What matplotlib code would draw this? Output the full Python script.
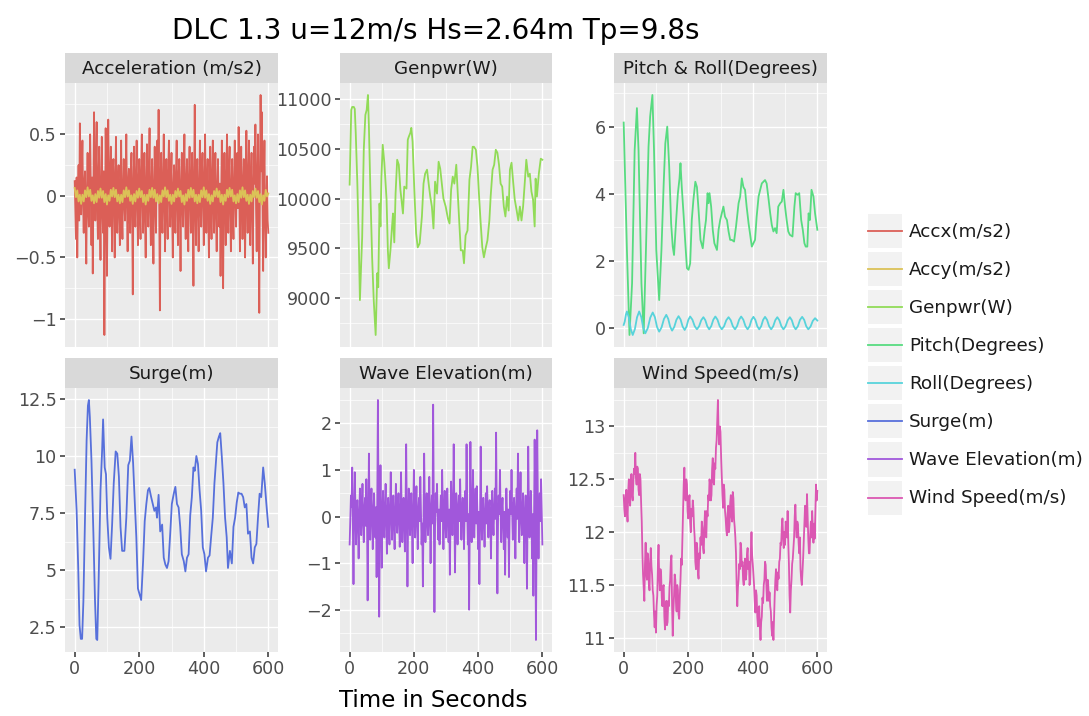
import colorsys
import numpy as np
import matplotlib
matplotlib.use("Agg")
import matplotlib.pyplot as plt
from matplotlib.ticker import MultipleLocator, FuncFormatter
from matplotlib.patches import Rectangle
from matplotlib.lines import Line2D
from matplotlib.legend_handler import HandlerBase

# ---- data (time in s) ----
# noisy signals, evenly sampled from 0 to 600 s (2 s or 4 s steps)
accx = [0.12, -0.10, -0.35, 0.15, -0.50, -0.05, 0.25, -0.20, 0.59, 0.10,
        -0.15, 0.20, 0.45, -0.05, -0.30, 0.10, 0.20, -0.25, -0.55, 0.05,
        0.35, -0.10, -0.25, 0.20, 0.50, 0.05, -0.40, 0.15, -0.63, 0.00,
        0.68, 0.10, -0.20, 0.25, 0.60, -0.10, -0.35, 0.15, 0.40, -0.15,
        -0.52, 0.05, 0.48, -0.10, -0.30, 0.20, -1.13, -0.20, 0.55, 0.10,
        -0.65, 0.00, 0.62, 0.10, -0.25, 0.15, 0.40, -0.10, -0.45, 0.20,
        0.30, -0.05, -0.50, 0.15, 0.48, -0.10, -0.30, 0.10, 0.25, -0.15,
        -0.40, 0.10, 0.45, -0.15, -0.35, 0.05, 0.30, -0.05, -0.20, 0.15,
        0.50, -0.05, -0.45, 0.10, 0.22, -0.15, -0.30, 0.20, 0.35, -0.10,
        -0.80, 0.05, 0.40, -0.10, -0.25, 0.15, 0.45, -0.05, -0.40, 0.10,
        0.30, -0.10, -0.35, 0.20, 0.50, 0.00, -0.30, 0.15, 0.35, -0.20,
        -0.50, 0.10, 0.42, -0.05, -0.25, 0.20, 0.55, -0.10, -0.40, 0.05,
        0.30, -0.15, -0.55, 0.05, 0.40, -0.05, -0.30, 0.20, 0.45, 0.00,
        0.70, -0.10, -0.93, 0.10, 0.35, -0.15, -0.30, 0.15, 0.50, -0.05,
        -0.45, 0.10, 0.30, -0.10, -0.35, 0.20, 0.45, 0.05, -0.25, 0.10,
        0.35, -0.15, -0.50, 0.05, 0.25, -0.10, -0.30, 0.20, 0.45, -0.05,
        -0.40, 0.15, 0.30, -0.10, -0.61, 0.05, 0.35, -0.05, -0.25, 0.20,
        0.50, -0.05, -0.35, 0.10, 0.30, -0.15, -0.45, 0.15, 0.40, 0.00,
        -0.30, 0.15, 0.35, -0.10, -0.73, 0.10, 0.74, -0.05, -0.40, 0.10,
        0.30, -0.10, -0.45, 0.05, 0.45, -0.10, -0.25, 0.20, 0.35, -0.05,
        -0.40, 0.10, 0.50, 0.00, -0.30, 0.10, 0.30, -0.15, -0.50, 0.05,
        0.40, -0.05, -0.35, 0.15, 0.45, -0.10, -0.30, 0.10, 0.35, -0.15,
        -0.45, 0.05, 0.30, -0.05, -0.25, 0.10, -0.65, 0.00, 0.45, -0.10,
        -0.75, 0.10, 0.35, -0.10, -0.40, 0.15, 0.50, -0.05, -0.30, 0.20,
        0.40, -0.10, -0.45, 0.05, 0.30, -0.15, -0.35, 0.10, 0.45, 0.00,
        -0.25, 0.10, 0.35, -0.10, 0.56, 0.05, -0.45, 0.15, 0.40, -0.05,
        -0.35, 0.10, 0.30, -0.15, -0.50, 0.05, 0.53, 0.00, -0.30, 0.15,
        0.45, -0.05, -0.40, 0.10, 0.35, -0.10, -0.55, 0.05, 0.40, 0.10,
        0.58, -0.10, -0.45, 0.15, 0.50, -0.20, -0.95, 0.10, 0.82, 0.20,
        0.68, -0.05, -0.61, 0.10, 0.45, -0.15, -0.50, -0.10, 0.16, -0.20,
        -0.30]

accy = [0.065, -0.010, 0.045, -0.045, 0.010, -0.065, 0.010, -0.045, 0.045, -0.010,
        0.070, -0.005, 0.050, -0.040, 0.005, -0.060, 0.015, -0.050, 0.040, -0.015,
        0.060, -0.015, 0.040, -0.050, 0.015, -0.070, 0.005, -0.040, 0.050, -0.005,
        0.065, -0.010, 0.050, -0.045, 0.010, -0.060, 0.010, -0.050, 0.045, -0.010,
        0.070, -0.005, 0.045, -0.040, 0.005, -0.065, 0.015, -0.045, 0.040, -0.015,
        0.060, -0.010, 0.040, -0.050, 0.010, -0.070, 0.010, -0.040, 0.050, -0.010,
        0.065, -0.015, 0.050, -0.045, 0.015, -0.060, 0.005, -0.050, 0.045, -0.005,
        0.070, -0.010, 0.045, -0.040, 0.010, -0.065, 0.010, -0.045, 0.040, -0.010,
        0.060, -0.005, 0.040, -0.050, 0.005, -0.070, 0.015, -0.040, 0.050, -0.015,
        0.065, -0.010, 0.050, -0.045, 0.010, -0.060, 0.010, -0.050, 0.045, -0.010,
        0.070, -0.015, 0.045, -0.040, 0.015, -0.065, 0.005, -0.045, 0.040, -0.005,
        0.060, -0.010, 0.040, -0.050, 0.010, -0.070, 0.010, -0.040, 0.050, -0.010,
        0.065, -0.005, 0.050, -0.045, 0.005, -0.060, 0.015, -0.050, 0.045, -0.015,
        0.070, -0.010, 0.045, -0.040, 0.010, -0.065, 0.010, -0.045, 0.040, -0.010,
        0.060, -0.015, 0.040, -0.050, 0.015, -0.070, 0.005, -0.040, 0.050, -0.005,
        0.020]

wave = [-0.60, -0.10, 0.45, 0.20, 1.05, -0.30, -1.45, 0.10, 0.95, 0.15,
        -0.60, 0.10, 0.35, -0.20, -0.90, 0.05, 0.60, 0.15, -0.40, 0.20,
        0.70, -0.10, -0.55, 0.15, 0.40, -0.20, 0.80, 0.10, -1.80, -0.20,
        1.35, 0.15, -0.50, 0.20, 0.60, -0.10, -0.70, 0.05, 0.50, -0.15,
        -0.45, 0.20, -1.30, 0.30, 2.50, 0.10, -2.15, -0.20, 1.10, 0.05,
        -1.10, 0.10, 0.55, -0.10, -0.45, 0.20, 0.70, -0.05, -0.80, 0.10,
        0.40, -0.15, -0.60, 0.20, 0.95, 0.05, -0.50, 0.10, 0.45, -0.20,
        -0.70, 0.10, 0.70, -0.05, -0.35, 0.15, 0.50, -0.10, -0.65, 0.05,
        0.95, 0.10, -0.55, 0.05, 0.40, -0.20, -0.75, 0.20, 1.55, 0.00,
        -1.50, -0.10, 0.60, 0.10, -0.40, 0.15, 0.50, -0.20, -1.00, 0.10,
        1.00, 0.05, -0.45, 0.20, 0.65, -0.10, -0.70, 0.10, 0.40, -0.10,
        0.85, 0.10, -0.60, -0.15, -1.50, 0.05, 1.35, 0.20, -0.55, 0.10,
        0.50, -0.10, -0.40, 0.15, 0.85, 0.00, -1.00, 0.10, 0.45, -0.15,
        2.40, 0.20, -2.05, -0.20, 0.50, 0.10, 0.70, -0.05, -0.50, 0.15,
        -0.60, 0.05, 0.45, -0.10, 1.00, 0.15, -0.70, 0.10, 0.55, -0.15,
        -0.45, 0.10, 0.60, -0.05, -0.55, 0.15, -1.25, -0.10, 0.75, 0.05,
        -0.40, 0.20, 1.55, 0.10, -1.20, -0.05, 0.50, 0.15, -0.60, 0.10,
        0.45, -0.10, 0.80, 0.05, -0.50, 0.15, 0.40, -0.05, -0.70, 0.10,
        0.55, -0.10, 1.55, 0.20, -0.60, 0.05, -2.00, -0.25, 1.60, 0.10,
        -0.55, 0.15, 1.00, 0.05, -0.45, 0.10, 0.60, -0.15, 0.65, 0.05,
        -0.70, 0.10, -1.45, -0.10, 1.50, 0.15, -0.50, 0.05, 0.40, -0.10,
        -0.65, 0.05, 0.50, -0.15, 0.65, 0.10, -0.45, 0.20, 0.35, -0.05,
        -0.90, 0.10, 0.55, -0.10, -0.40, 0.15, 0.60, -0.05, 1.80, 0.20,
        -1.65, -0.10, 0.45, 0.05, 1.00, 0.10, -0.55, 0.15, 0.40, -0.10,
        -0.70, 0.10, -1.25, -0.05, 0.60, 0.10, -0.45, 0.15, -1.30, -0.10,
        0.55, 0.05, 1.00, 0.10, -0.50, 0.15, 0.40, -0.05, -0.90, 0.10,
        0.60, -0.05, 1.35, 0.15, -0.55, 0.10, 0.95, 0.05, -0.40, 0.10,
        0.50, -0.10, -1.00, 0.05, 0.45, -0.15, -1.55, -0.10, 1.50, 0.20,
        -0.45, 0.10, 0.55, -0.05, -0.90, 0.05, -1.70, -0.20, 1.65, 0.10,
        -2.65, -0.30, 1.85, 0.30, -0.90, 0.10, 0.50, -0.10, 0.80, 0.15,
        -0.60]

wind = [12.35, 12.22, 12.15, 12.32, 12.40, 12.20, 12.10, 12.38, 12.50, 12.30,
        12.25, 12.45, 12.55, 12.35, 12.30, 12.48, 12.60, 12.55, 12.75, 12.52,
        12.45, 12.62, 12.60, 12.40, 12.35, 12.55, 12.50, 12.28, 12.10, 11.80,
        11.60, 11.48, 11.35, 11.70, 11.90, 11.62, 11.55, 11.80, 11.75, 11.52,
        11.45, 11.70, 11.85, 11.68, 11.60, 11.45, 11.40, 11.22, 11.10, 11.25,
        11.05, 11.30, 11.40, 11.70, 11.88, 11.58, 11.45, 11.65, 11.60, 11.38,
        11.30, 11.48, 11.50, 11.20, 11.08, 11.28, 11.35, 11.12, 11.15, 11.35,
        11.30, 11.48, 11.55, 11.72, 11.78, 11.30, 11.02, 11.25, 11.40, 11.60,
        11.55, 11.35, 11.25, 11.50, 11.45, 11.22, 11.18, 11.40, 11.55, 11.75,
        11.69, 11.95, 12.20, 12.45, 12.61, 12.35, 12.30, 12.50, 12.45, 12.20,
        12.13, 12.30, 12.35, 12.10, 12.00, 12.22, 12.15, 12.30, 12.23, 12.05,
        11.95, 11.72, 11.65, 11.90, 11.85, 11.62, 11.56, 11.80, 11.75, 11.95,
        11.88, 12.10, 12.04, 11.85, 11.80, 12.05, 12.20, 11.98, 11.95, 12.20,
        12.15, 12.35, 12.30, 12.50, 12.45, 12.30, 12.35, 12.60, 12.70, 12.48,
        12.45, 12.65, 12.60, 12.80, 12.87, 13.05, 13.25, 12.95, 12.83, 13.00,
        12.95, 12.70, 12.52, 12.35, 12.23, 12.45, 12.40, 12.20, 12.13, 12.02,
        11.97, 12.18, 12.25, 12.00, 12.07, 12.28, 12.35, 12.15, 12.10, 12.38,
        12.32, 12.12, 12.05, 11.95, 11.80, 11.50, 11.30, 11.48, 11.55, 11.70,
        11.65, 11.90, 11.85, 11.68, 11.72, 11.55, 11.50, 11.68, 11.75, 11.55,
        11.60, 11.78, 11.85, 11.65, 11.72, 11.50, 11.55, 11.82, 12.00, 11.78,
        11.70, 11.60, 11.50, 11.35, 11.24, 11.45, 11.40, 11.20, 11.11, 11.28,
        11.30, 11.10, 10.98, 11.15, 11.20, 11.38, 11.33, 11.50, 11.55, 11.72,
        11.69, 11.50, 11.35, 11.55, 11.50, 11.35, 11.43, 11.30, 11.25, 11.10,
        11.02, 11.15, 10.98, 11.20, 11.40, 11.55, 11.65, 11.50, 11.45, 11.62,
        11.56, 11.72, 11.75, 11.90, 11.88, 12.05, 12.13, 11.95, 11.85, 12.00,
        11.88, 12.10, 12.05, 11.95, 12.20, 11.90, 11.70, 11.40, 11.24, 11.45,
        11.55, 11.70, 11.75, 11.85, 11.95, 12.15, 12.26, 12.05, 11.95, 12.10,
        12.07, 11.90, 11.80, 11.95, 11.65, 11.55, 11.50, 11.62, 11.75, 11.92,
        12.07, 12.25, 12.20, 12.05, 12.36, 12.15, 11.94, 11.80, 11.80, 11.98,
        12.10, 11.95, 12.20, 12.05, 11.90, 12.08, 11.94, 12.20, 12.45, 12.30,
        12.39]

# smoother signals as (time, value) readings
genpwr = [(0, 10140), (5, 10890), (8, 10920), (13, 10920), (16, 10900), (19, 10660),
          (24, 10150), (29, 9480), (32, 8980), (36, 9350), (39, 9610), (44, 10490),
          (49, 10840), (53, 10890), (57, 11040), (60, 10720), (65, 10020), (70, 9410),
          (75, 8980), (81, 8630), (86, 9250), (89, 9110), (93, 9950), (96, 9720),
          (99, 10220), (103, 10540), (108, 10360), (115, 9990), (119, 9480), (122, 9300),
          (127, 9480), (132, 9720), (135, 9850), (139, 9560), (143, 10050), (148, 10390),
          (153, 10340), (158, 10090), (166, 9850), (170, 10120), (177, 10100), (181, 10590),
          (184, 10620), (189, 10660), (192, 10710), (196, 10570), (201, 10120), (207, 9650),
          (212, 9510), (218, 9550), (225, 9820), (230, 10150), (235, 10250), (241, 10290),
          (246, 10150), (251, 10020), (256, 9920), (261, 9700), (266, 10170), (272, 10050),
          (277, 10370), (282, 10300), (287, 10150), (292, 10000), (299, 9920), (306, 9800),
          (311, 9750), (316, 10090), (321, 10220), (326, 10150), (332, 10340), (336, 10090),
          (341, 9780), (346, 9480), (352, 9480), (356, 9350), (361, 9630), (367, 9680),
          (373, 10190), (378, 10320), (383, 10520), (387, 10520), (393, 10490), (398, 10320),
          (403, 10020), (408, 9750), (413, 9510), (418, 9410), (424, 9510), (429, 9580),
          (435, 9780), (439, 10020), (445, 10290), (450, 10340), (455, 10490), (460, 10460),
          (465, 10340), (470, 10150), (475, 10120), (480, 9920), (485, 9820), (490, 10020),
          (495, 9880), (499, 10290), (504, 10360), (509, 10170), (514, 9990), (520, 9880),
          (525, 9780), (530, 9920), (535, 9780), (540, 9920), (545, 10150), (550, 10390),
          (556, 10220), (561, 10250), (566, 10070), (571, 9990), (576, 9720), (579, 10200),
          (583, 10020), (589, 10250), (595, 10400), (600, 10390)]

pitch = [(0, 6.12), (10, 2.33), (18, -0.20), (26, 1.34), (34, 5.30), (41, 6.55),
         (46, 5.30), (55, 1.34), (62, -0.15), (69, 2.33), (77, 5.40), (82, 6.30),
         (89, 6.94), (94, 5.30), (101, 2.33), (110, 0.84), (117, 2.33), (124, 4.31),
         (129, 5.50), (135, 6.00), (141, 4.81), (147, 3.12), (152, 2.43), (156, 2.18),
         (162, 3.12), (168, 4.02), (173, 4.46), (176, 4.91), (180, 4.20), (186, 3.32),
         (191, 2.53), (196, 1.79), (201, 1.74), (206, 1.93), (211, 3.22), (216, 3.82),
         (222, 4.36), (227, 4.20), (232, 3.52), (238, 2.63), (245, 2.38), (251, 2.93),
         (255, 3.22), (260, 4.02), (263, 3.72), (266, 4.02), (271, 3.62), (276, 2.93),
         (281, 2.53), (289, 2.33), (294, 2.93), (299, 3.22), (304, 3.42), (309, 3.62),
         (314, 3.32), (320, 3.22), (325, 2.88), (330, 2.63), (335, 2.63), (342, 2.58),
         (348, 3.02), (356, 3.72), (361, 3.92), (366, 4.46), (371, 4.20), (376, 4.12),
         (381, 3.62), (387, 3.12), (392, 2.78), (397, 2.43), (402, 2.53), (407, 2.63),
         (412, 3.32), (418, 3.92), (423, 4.12), (428, 4.31), (433, 4.36), (438, 4.41),
         (443, 4.31), (448, 3.92), (454, 3.42), (459, 3.07), (464, 2.88), (469, 2.98),
         (474, 2.83), (479, 3.62), (485, 3.72), (490, 3.77), (495, 4.12), (500, 3.62),
         (505, 3.22), (510, 2.88), (515, 2.78), (523, 2.73), (529, 3.62), (533, 4.02),
         (539, 3.97), (544, 4.02), (550, 3.22), (555, 2.93), (560, 2.53), (564, 2.43),
         (569, 2.43), (573, 3.42), (577, 3.22), (582, 4.12), (588, 3.92), (593, 3.42),
         (600, 2.93)]

roll = [(0, 0.10), (3.3, 0.20), (6.7, 0.40), (10, 0.50), (16, 0.325), (22, -0.025),
        (28, -0.20), (34.7, -0.025), (41.3, 0.325), (48, 0.50), (54.3, 0.34), (60.7, 0.01),
        (67, -0.15), (74.7, 0.005), (82.3, 0.315), (90, 0.47), (96.7, 0.33), (103.3, 0.04),
        (110, -0.10), (117.3, 0.025), (124.7, 0.275), (132, 0.40), (138, 0.28), (144, 0.05),
        (150, -0.07), (156.7, 0.04), (163.3, 0.25), (170, 0.36), (176.3, 0.26), (182.7, 0.05),
        (189, -0.05), (194.7, 0.05), (200.3, 0.25), (206, 0.35), (213, 0.255), (220, 0.065),
        (227, -0.03), (233.7, 0.06), (240.3, 0.24), (247, 0.33), (253, 0.24), (259, 0.06),
        (265, -0.03), (271.3, 0.065), (277.7, 0.255), (284, 0.35), (290.7, 0.255), (297.3, 0.065),
        (304, -0.03), (311, 0.06), (318, 0.24), (325, 0.33), (331.7, 0.24), (338.3, 0.06),
        (345, -0.03), (351.3, 0.065), (357.7, 0.255), (364, 0.35), (370.7, 0.255), (377.3, 0.065),
        (384, -0.03), (390, 0.06), (396, 0.25), (402, 0.34), (408, 0.25), (414, 0.06),
        (420, -0.03), (426, 0.06), (432, 0.25), (438, 0.34), (444.3, 0.25), (450.7, 0.06),
        (457, -0.03), (463.3, 0.06), (469.7, 0.24), (476, 0.33), (482.3, 0.24), (488.7, 0.06),
        (495, -0.03), (501.7, 0.06), (508.3, 0.24), (515, 0.33), (521, 0.24), (527, 0.06),
        (533, -0.03), (539.7, 0.06), (546.3, 0.25), (553, 0.34), (559.3, 0.25), (565.7, 0.06),
        (572, -0.03), (579, 0.05), (586, 0.22), (593, 0.30), (600, 0.23)]

surge = [(0, 9.4), (6, 7.6), (11, 5.1), (15, 2.6), (19, 2.0), (23, 2.0), (27, 3.65),
         (32, 7.3), (37, 10.7), (41, 12.2), (44, 12.45), (47, 11.7), (52, 9.8), (58, 6.6),
         (63, 3.65), (67, 2.0), (70, 1.95), (74, 4.4), (80, 8.5), (85, 10.25), (88, 11.6),
         (93, 9.5), (97, 9.2), (101, 7.3), (106, 6.0), (111, 5.5), (116, 7.0), (121, 8.8),
         (127, 10.2), (132, 10.1), (137, 9.1), (142, 6.9), (147, 5.85), (154, 5.85), (160, 7.3),
         (166, 9.6), (171, 9.8), (176, 10.85), (181, 9.7), (186, 8.05), (191, 6.45), (196, 4.2),
         (201, 3.95), (206, 3.7), (212, 5.4), (217, 7.15), (222, 7.9), (227, 8.5), (231, 8.6),
         (237, 8.2), (242, 7.9), (247, 7.6), (252, 7.75), (255, 7.3), (260, 8.3), (265, 6.7),
         (271, 7.0), (276, 5.55), (281, 5.25), (286, 5.1), (291, 5.4), (296, 6.6), (301, 7.9),
         (307, 8.35), (312, 8.65), (317, 7.9), (322, 7.75), (327, 6.9), (332, 5.7), (338, 5.4),
         (343, 4.95), (348, 5.55), (353, 5.7), (358, 7.4), (363, 8.2), (368, 9.5), (372, 9.35),
         (377, 10.0), (382, 9.65), (387, 8.5), (392, 7.6), (397, 6.0), (402, 5.7), (407, 4.95),
         (413, 5.55), (418, 5.65), (423, 6.5), (428, 7.3), (433, 8.8), (438, 9.8), (442, 10.6),
         (447, 10.85), (451, 11.0), (456, 9.95), (461, 8.8), (466, 7.3), (471, 6.45), (475, 5.1),
         (481, 5.85), (487, 5.3), (492, 6.9), (497, 7.3), (502, 7.95), (507, 8.4), (512, 8.35),
         (517, 8.35), (522, 8.2), (527, 7.75), (532, 7.9), (537, 6.6), (543, 6.7), (548, 5.55),
         (553, 5.3), (558, 6.0), (563, 6.15), (568, 7.3), (573, 8.35), (578, 8.2), (584, 9.5),
         (589, 8.8), (594, 7.9), (600, 6.9)]

series_names = ["Accx(m/s2)", "Accy(m/s2)", "Genpwr(W)", "Pitch(Degrees)",
                "Roll(Degrees)", "Surge(m)", "Wave Elevation(m)", "Wind Speed(m/s)"]
panel_titles = ["Acceleration (m/s2)", "Genpwr(W)", "Pitch & Roll(Degrees)",
                "Surge(m)", "Wave Elevation(m)", "Wind Speed(m/s)"]


def even(vals):
    return np.linspace(0, 600, len(vals)), np.array(vals)


def pairs(p):
    a = np.array(p, dtype=float)
    return a[:, 0], a[:, 1]


series = {
    "Accx(m/s2)": even(accx),
    "Accy(m/s2)": even(accy),
    "Genpwr(W)": pairs(genpwr),
    "Pitch(Degrees)": pairs(pitch),
    "Roll(Degrees)": pairs(roll),
    "Surge(m)": pairs(surge),
    "Wave Elevation(m)": even(wave),
    "Wind Speed(m/s)": even(wind),
}

# plotnine-like hue palette
hues = (np.linspace(0, 1, len(series_names) + 1)[:-1] + 0.01) % 1
colors = {n: colorsys.hls_to_rgb(h, 0.6, 0.65) for n, h in zip(series_names, hues)}

panels = [
    (["Accx(m/s2)", "Accy(m/s2)"], 0.5),
    (["Genpwr(W)"], 500),
    (["Pitch(Degrees)", "Roll(Degrees)"], 2),
    (["Surge(m)"], 2.5),
    (["Wave Elevation(m)"], 1),
    (["Wind Speed(m/s)"], 0.5),
]

W, H = 1089, 716
fig = plt.figure(figsize=(W / 100, H / 100), dpi=100)

cols = [(65, 278), (340, 552), (614, 827)]
rows = [(53, 83, 347), (358, 388, 652)]

fmt = FuncFormatter(lambda v, p: f"{v:g}".replace("-", "\u2212"))
LW = 1.3

for k, ((names, step), title) in enumerate(zip(panels, panel_titles)):
    r, c = divmod(k, 3)
    x0, x1 = cols[c]
    ys, yt, yb = rows[r]
    ax = fig.add_axes([x0 / W, 1 - yb / H, (x1 - x0) / W, (yb - yt) / H])
    sax = fig.add_axes([x0 / W, 1 - yt / H, (x1 - x0) / W, (yt - ys) / H])

    for n in names:
        t, v = series[n]
        ax.plot(t, v, color=colors[n], lw=LW)

    ax.set_facecolor("#EBEBEB")
    for s in ax.spines.values():
        s.set_visible(False)
    ax.margins(x=0.05, y=0.05)
    ax.xaxis.set_major_locator(MultipleLocator(200))
    ax.xaxis.set_minor_locator(MultipleLocator(100))
    ax.yaxis.set_major_locator(MultipleLocator(step))
    ax.yaxis.set_minor_locator(MultipleLocator(step / 2))
    ax.yaxis.set_major_formatter(fmt)
    ax.xaxis.set_major_formatter(fmt)
    ax.grid(True, which="major", color="white", lw=1.0)
    ax.grid(True, which="minor", color="white", lw=0.5)
    ax.set_axisbelow(True)
    ax.tick_params(which="major", direction="out", length=3.6, width=1.1,
                   color="#333333", labelcolor="#4D4D4D", labelsize=12.6, pad=2.5)
    ax.tick_params(which="minor", length=0)
    if r == 0:
        ax.tick_params(axis="x", which="major", bottom=False, labelbottom=False)

    sax.set_facecolor("#D9D9D9")
    sax.set_xticks([])
    sax.set_yticks([])
    for s in sax.spines.values():
        s.set_visible(False)
    sax.text(0.5, 0.48, title, ha="center", va="center", fontsize=13.2,
             color="#1A1A1A", transform=sax.transAxes)

fig.text(436 / W, 1 - 39 / H, "DLC 1.3 u=12m/s Hs=2.64m Tp=9.8s", ha="center",
         va="baseline", fontsize=20, color="black")
fig.text(433 / W, 1 - 707 / H, "Time in Seconds", ha="center", va="baseline",
         fontsize=16.6, color="black")


class KeyHandler(HandlerBase):
    # grey key box with the series line across it, as in ggplot legends
    def create_artists(self, legend, orig_handle, xdescent, ydescent, width,
                       height, fontsize, trans):
        bg = Rectangle((-xdescent, -ydescent), width, height, facecolor="#F2F2F2",
                       edgecolor="none", transform=trans)
        y = -ydescent + height / 2
        ln = Line2D([-xdescent, -xdescent + width], [y, y], color=orig_handle.get_color(),
                    lw=orig_handle.get_linewidth(), transform=trans)
        return [bg, ln]


handles = [Line2D([], [], color=colors[n], lw=LW) for n in series_names]
fig.legend(handles, series_names, loc="upper left", bbox_to_anchor=(868 / W, 1 - 214 / H),
           frameon=False, fontsize=13.2, handlelength=1.85, handleheight=2.48,
           labelspacing=0.22, handletextpad=0.38, borderpad=0, borderaxespad=0,
           handler_map={Line2D: KeyHandler()}, labelcolor="#1A1A1A")

fig.savefig("out.png", dpi=100, facecolor="white")
